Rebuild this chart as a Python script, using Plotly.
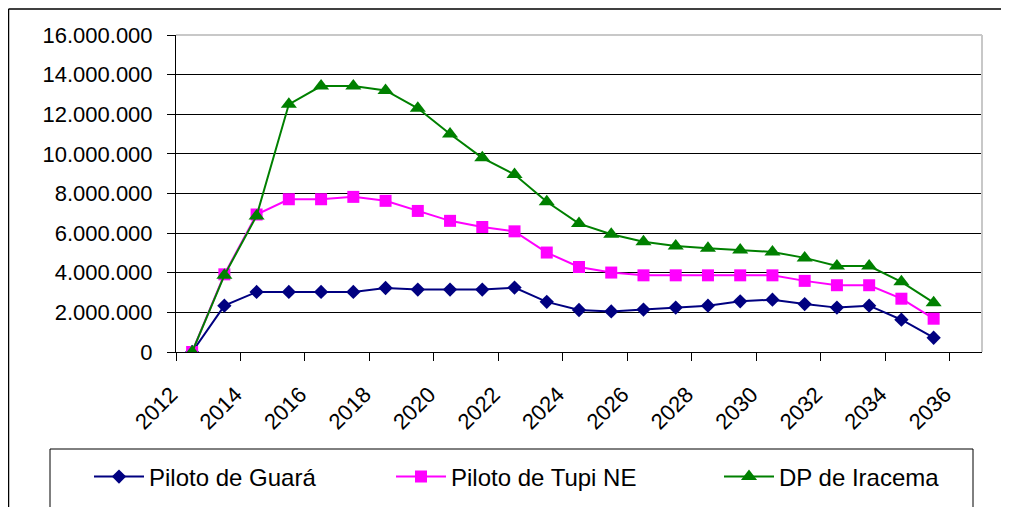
import plotly.graph_objects as go

# ---- data ----
years = [2012, 2013, 2014, 2015, 2016, 2017, 2018, 2019, 2020, 2021, 2022, 2023,
         2024, 2025, 2026, 2027, 2028, 2029, 2030, 2031, 2032, 2033, 2034, 2035]
guara = [0, 2340000, 3030000, 3030000, 3030000, 3030000, 3230000, 3150000, 3150000,
         3150000, 3250000, 2530000, 2120000, 2050000, 2140000, 2240000, 2340000,
         2560000, 2640000, 2420000, 2240000, 2340000, 1630000, 720000]
tupi = [0, 3920000, 6940000, 7710000, 7710000, 7830000, 7630000, 7120000, 6620000,
        6310000, 6090000, 5020000, 4290000, 4010000, 3870000, 3870000, 3870000,
        3870000, 3870000, 3590000, 3370000, 3370000, 2690000, 1680000]
iracema = [0, 3870000, 6870000, 12500000, 13420000, 13420000, 13200000, 12300000,
           11000000, 9800000, 8960000, 7580000, 6480000, 5940000, 5560000, 5350000,
           5240000, 5150000, 5050000, 4750000, 4340000, 4340000, 3540000, 2490000]
tick_years = [2012, 2014, 2016, 2018, 2020, 2022, 2024, 2026, 2028, 2030, 2032, 2034, 2036]
y_ticks = [0, 2000000, 4000000, 6000000, 8000000, 10000000, 12000000, 14000000, 16000000]
names = ["Piloto de Guará", "Piloto de Tupi NE", "DP de Iracema"]

# ---- layout geometry (page pixels; page body adds an 8px offset) ----
W, H = 1009, 507
OFF = 8
L, R, T, B = 176, 982, 35, 352
def px(x):
    return (x - L) / (R - L)
def py(y):
    return (B - y) / (B - T)

FONT = "Liberation Sans, Arial, sans-serif"

fig = go.Figure()
fig.add_trace(go.Scatter(x=years, y=guara, name=names[0], mode="lines+markers",
                         line=dict(color="#000080", width=2),
                         marker=dict(symbol="diamond", size=11, color="#000080"),
                         legend="legend"))
fig.add_trace(go.Scatter(x=years, y=tupi, name=names[1], mode="lines+markers",
                         line=dict(color="#FF00FF", width=2),
                         marker=dict(symbol="square", size=12, color="#FF00FF"),
                         legend="legend2"))
fig.add_trace(go.Scatter(x=years, y=iracema, name=names[2], mode="lines+markers",
                         line=dict(color="#008000", width=2),
                         marker=dict(symbol="triangle-up", size=14, color="#008000"),
                         legend="legend3"))

leg_common = dict(font=dict(family=FONT, size=24, color="black"),
                  bgcolor="rgba(0,0,0,0)", borderwidth=0, xanchor="left",
                  yanchor="middle", itemwidth=50)
legend_y = py(477)

fig.update_layout(
    width=W, height=H,
    margin=dict(l=L - OFF, r=W - R + OFF, t=T - OFF, b=H - B + OFF, autoexpand=False),
    paper_bgcolor="white", plot_bgcolor="white",
    separators=",.",
    showlegend=True,
    font=dict(family=FONT, size=22, color="black"),
    legend=dict(x=px(89), y=legend_y, **leg_common),
    legend2=dict(x=px(391), y=legend_y, **leg_common),
    legend3=dict(x=px(719), y=legend_y, **leg_common),
    xaxis=dict(range=[2011.5, 2036.5], tickmode="array", tickvals=tick_years,
               ticktext=[str(t) for t in tick_years], tickangle=-45,
               ticks="", showgrid=False, showline=True, linecolor="black",
               linewidth=1, zeroline=False, ticklabelshift=-21,
               ticklabelstandoff=20, automargin=False,
               tickfont=dict(family=FONT, size=22, color="black"),
               minor=dict(tickmode="array",
                          tickvals=[2011.5 + 2 * i for i in range(13)],
                          ticks="outside", ticklen=8, tickcolor="black",
                          tickwidth=1, showgrid=False)),
    yaxis=dict(range=[0, 16000000], tickmode="array", tickvals=y_ticks,
               tickformat=",d", ticks="outside", ticklen=8, tickcolor="black",
               showgrid=True, gridcolor="black", gridwidth=1,
               showline=True, linecolor="black", linewidth=1, zeroline=False,
               ticklabelstandoff=10, automargin=False,
               tickfont=dict(family=FONT, size=22, color="black")),
    shapes=[
        # outer chart border
        dict(type="line", xref="paper", yref="paper", x0=px(8.5), x1=px(1020),
             y0=py(9), y1=py(9), line=dict(color="black", width=1.5)),
        dict(type="line", xref="paper", yref="paper", x0=px(8.5), x1=px(8.5),
             y0=py(9), y1=py(520), line=dict(color="black", width=1.5)),
        # legend box
        dict(type="rect", xref="paper", yref="paper", x0=px(50), x1=px(973),
             y0=py(540), y1=py(449), line=dict(color="black", width=1),
             fillcolor="rgba(0,0,0,0)", layer="below"),
        # plot area border (top and right, grey)
        dict(type="line", xref="paper", yref="paper", x0=0, x1=1, y0=1, y1=1,
             line=dict(color="#c8c8c8", width=2), layer="above"),
        dict(type="line", xref="paper", yref="paper", x0=1, x1=1, y0=0, y1=1,
             line=dict(color="#c8c8c8", width=2), layer="above"),
    ],
)

fig.write_html("out.html")
